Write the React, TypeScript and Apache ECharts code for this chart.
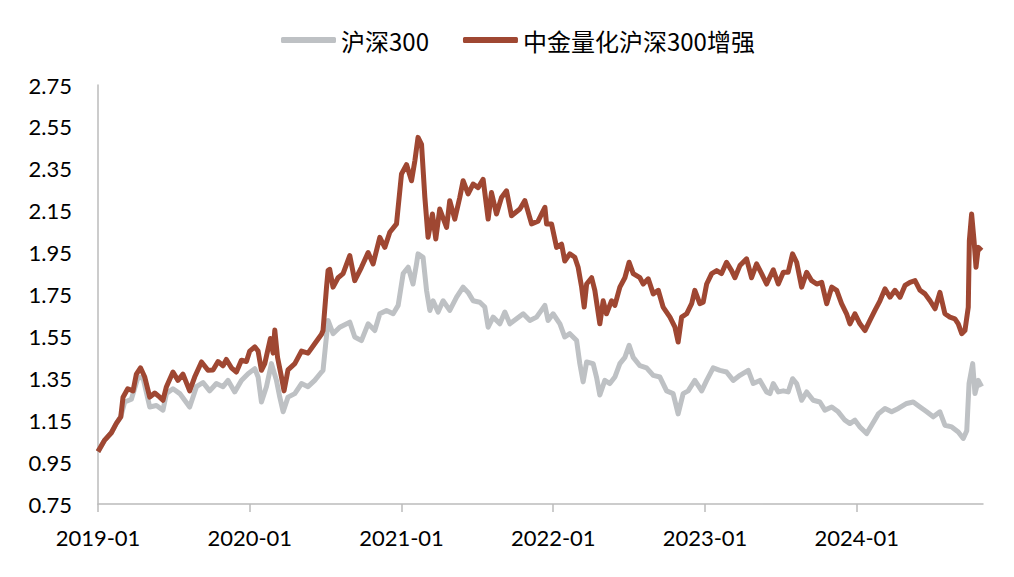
import React, { useEffect, useRef } from "react";
import * as echarts from "echarts";

const seriesNames = ["沪深300", "中金量化沪深300增强"];

const csiYears = [
  2019.000, 2019.044, 2019.088, 2019.121, 2019.150, 2019.176, 2019.220, 2019.264, 2019.297, 2019.341,
  2019.385, 2019.428, 2019.451, 2019.494, 2019.539, 2019.604, 2019.649, 2019.692, 2019.736, 2019.780,
  2019.824, 2019.857, 2019.901, 2019.945, 2019.989, 2020.033, 2020.055, 2020.077, 2020.110, 2020.143,
  2020.176, 2020.198, 2020.220, 2020.252, 2020.297, 2020.341, 2020.384, 2020.428, 2020.473, 2020.483,
  2020.516, 2020.549, 2020.593, 2020.659, 2020.692, 2020.736, 2020.780, 2020.824, 2020.857, 2020.901,
  2020.945, 2020.978, 2021.011, 2021.044, 2021.076, 2021.099, 2021.109, 2021.142, 2021.165, 2021.187,
  2021.208, 2021.241, 2021.274, 2021.318, 2021.363, 2021.406, 2021.439, 2021.472, 2021.516, 2021.549,
  2021.571, 2021.604, 2021.648, 2021.681, 2021.714, 2021.758, 2021.802, 2021.846, 2021.890, 2021.945,
  2021.966, 2021.999, 2022.044, 2022.076, 2022.109, 2022.154, 2022.175, 2022.197, 2022.220, 2022.263,
  2022.285, 2022.307, 2022.340, 2022.373, 2022.406, 2022.439, 2022.472, 2022.500, 2022.527, 2022.571,
  2022.615, 2022.659, 2022.703, 2022.747, 2022.790, 2022.823, 2022.856, 2022.889, 2022.933, 2022.978,
  2023.011, 2023.054, 2023.098, 2023.142, 2023.186, 2023.230, 2023.285, 2023.318, 2023.362, 2023.406,
  2023.428, 2023.450, 2023.483, 2023.516, 2023.548, 2023.577, 2023.604, 2023.637, 2023.670, 2023.713,
  2023.757, 2023.790, 2023.835, 2023.878, 2023.922, 2023.955, 2023.988, 2024.021, 2024.065, 2024.098,
  2024.142, 2024.186, 2024.230, 2024.274, 2024.329, 2024.372, 2024.417, 2024.461, 2024.504, 2024.548,
  2024.581, 2024.626, 2024.669, 2024.702, 2024.725, 2024.740, 2024.764, 2024.779, 2024.801, 2024.823,
];
const csiValues = [
  1.00, 1.055, 1.09, 1.135, 1.166, 1.237, 1.25, 1.356, 1.35, 1.213,
  1.22, 1.198, 1.277, 1.30, 1.277, 1.213, 1.31, 1.33, 1.29, 1.325,
  1.31, 1.34, 1.285, 1.34, 1.372, 1.396, 1.356, 1.237, 1.31, 1.42,
  1.34, 1.26, 1.19, 1.26, 1.277, 1.325, 1.31, 1.34, 1.38, 1.388,
  1.626, 1.563, 1.594, 1.618, 1.547, 1.53, 1.61, 1.578, 1.658, 1.674,
  1.658, 1.698, 1.85, 1.88, 1.80, 1.896, 1.944, 1.928, 1.77, 1.674,
  1.72, 1.666, 1.72, 1.674, 1.737, 1.785, 1.76, 1.72, 1.713, 1.69,
  1.594, 1.642, 1.61, 1.666, 1.61, 1.634, 1.658, 1.626, 1.642, 1.698,
  1.626, 1.658, 1.61, 1.547, 1.563, 1.53, 1.42, 1.333, 1.428, 1.42,
  1.356, 1.27, 1.34, 1.325, 1.356, 1.42, 1.45, 1.507, 1.45, 1.41,
  1.40, 1.364, 1.356, 1.29, 1.277, 1.18, 1.277, 1.29, 1.34, 1.29,
  1.34, 1.40, 1.388, 1.38, 1.34, 1.364, 1.388, 1.325, 1.34, 1.285,
  1.277, 1.325, 1.285, 1.29, 1.285, 1.348, 1.325, 1.245, 1.285, 1.245,
  1.237, 1.198, 1.213, 1.19, 1.15, 1.134, 1.15, 1.118, 1.086, 1.126,
  1.18, 1.206, 1.19, 1.206, 1.23, 1.237, 1.213, 1.19, 1.166, 1.19,
  1.126, 1.118, 1.094, 1.063, 1.10, 1.325, 1.42, 1.277, 1.34, 1.31,
];

const enhYears = [
  2019.000, 2019.044, 2019.088, 2019.121, 2019.150, 2019.165, 2019.196, 2019.231, 2019.253, 2019.280,
  2019.308, 2019.341, 2019.374, 2019.407, 2019.428, 2019.451, 2019.494, 2019.527, 2019.560, 2019.604,
  2019.637, 2019.682, 2019.725, 2019.758, 2019.791, 2019.824, 2019.846, 2019.879, 2019.912, 2019.945,
  2019.978, 2020.000, 2020.033, 2020.055, 2020.077, 2020.099, 2020.136, 2020.154, 2020.165, 2020.183,
  2020.209, 2020.226, 2020.252, 2020.297, 2020.341, 2020.384, 2020.428, 2020.473, 2020.483, 2020.506,
  2020.516, 2020.527, 2020.549, 2020.582, 2020.615, 2020.659, 2020.692, 2020.736, 2020.780, 2020.813,
  2020.857, 2020.890, 2020.923, 2020.967, 2021.000, 2021.033, 2021.066, 2021.088, 2021.109, 2021.132,
  2021.154, 2021.175, 2021.204, 2021.226, 2021.252, 2021.297, 2021.318, 2021.351, 2021.384, 2021.406,
  2021.439, 2021.472, 2021.505, 2021.538, 2021.571, 2021.593, 2021.626, 2021.659, 2021.692, 2021.725,
  2021.780, 2021.813, 2021.857, 2021.900, 2021.945, 2021.956, 2021.989, 2022.022, 2022.055, 2022.076,
  2022.109, 2022.142, 2022.164, 2022.187, 2022.204, 2022.220, 2022.253, 2022.274, 2022.307, 2022.329,
  2022.351, 2022.384, 2022.406, 2022.439, 2022.472, 2022.500, 2022.527, 2022.571, 2022.593, 2022.626,
  2022.659, 2022.692, 2022.724, 2022.769, 2022.802, 2022.823, 2022.846, 2022.879, 2022.912, 2022.933,
  2022.966, 2022.988, 2023.011, 2023.044, 2023.077, 2023.109, 2023.142, 2023.175, 2023.197, 2023.230,
  2023.274, 2023.307, 2023.340, 2023.373, 2023.406, 2023.450, 2023.483, 2023.516, 2023.548, 2023.577,
  2023.604, 2023.637, 2023.670, 2023.703, 2023.736, 2023.769, 2023.802, 2023.835, 2023.868, 2023.900,
  2023.933, 2023.955, 2023.988, 2024.021, 2024.054, 2024.087, 2024.120, 2024.153, 2024.186, 2024.219,
  2024.252, 2024.285, 2024.318, 2024.351, 2024.384, 2024.417, 2024.450, 2024.483, 2024.516, 2024.548,
  2024.581, 2024.614, 2024.647, 2024.669, 2024.692, 2024.713, 2024.735, 2024.742, 2024.757, 2024.773,
  2024.786, 2024.801, 2024.823,
];
const enhValues = [
  1.00, 1.055, 1.09, 1.135, 1.166, 1.26, 1.30, 1.29, 1.37, 1.40,
  1.356, 1.26, 1.28, 1.26, 1.245, 1.31, 1.38, 1.34, 1.37, 1.29,
  1.356, 1.428, 1.388, 1.39, 1.43, 1.41, 1.44, 1.40, 1.38, 1.436,
  1.43, 1.48, 1.50, 1.48, 1.388, 1.42, 1.54, 1.47, 1.58, 1.45,
  1.356, 1.29, 1.39, 1.42, 1.48, 1.47, 1.515, 1.56, 1.578, 1.785,
  1.864, 1.87, 1.785, 1.83, 1.85, 1.936, 1.816, 1.88, 1.95, 1.896,
  2.023, 1.975, 2.047, 2.087, 2.325, 2.37, 2.293, 2.388, 2.50, 2.467,
  2.213, 2.023, 2.134, 2.015, 2.158, 2.07, 2.198, 2.11, 2.213, 2.293,
  2.23, 2.277, 2.26, 2.30, 2.11, 2.237, 2.134, 2.213, 2.245, 2.126,
  2.158, 2.198, 2.087, 2.10, 2.166, 2.087, 2.087, 1.975, 1.99, 1.91,
  1.944, 1.928, 1.88, 1.785, 1.69, 1.80, 1.83, 1.77, 1.61, 1.72,
  1.658, 1.72, 1.698, 1.785, 1.83, 1.904, 1.85, 1.83, 1.80, 1.825,
  1.753, 1.77, 1.69, 1.642, 1.594, 1.523, 1.642, 1.658, 1.706, 1.77,
  1.706, 1.713, 1.80, 1.85, 1.864, 1.85, 1.904, 1.864, 1.83, 1.888,
  1.92, 1.83, 1.896, 1.85, 1.80, 1.868, 1.80, 1.856, 1.856, 1.944,
  1.904, 1.785, 1.856, 1.816, 1.80, 1.808, 1.706, 1.785, 1.77, 1.706,
  1.658, 1.61, 1.658, 1.61, 1.578, 1.626, 1.674, 1.72, 1.777, 1.737,
  1.77, 1.737, 1.793, 1.808, 1.816, 1.77, 1.753, 1.72, 1.682, 1.76,
  1.658, 1.642, 1.634, 1.61, 1.563, 1.578, 1.69, 2.007, 2.134, 2.007,
  1.88, 1.975, 1.96,
];

const xTickValues = [2019, 2020, 2021, 2022, 2023, 2024];
const xTickLabels = ["2019-01", "2020-01", "2021-01", "2022-01", "2023-01", "2024-01"];
const yTickValues = [0.75, 0.95, 1.15, 1.35, 1.55, 1.75, 1.95, 2.15, 2.35, 2.55, 2.75];
const yTickLabels = ["0.75", "0.95", "1.15", "1.35", "1.55", "1.75", "1.95", "2.15", "2.35", "2.55", "2.75"];

const pairs = (xs: number[], ys: number[]) => xs.map((x, i) => [x, ys[i]]);

export default function App() {
  const ref = useRef<HTMLDivElement>(null);
  useEffect(() => {
    document.body.style.margin = "0";
    if (!ref.current) return;
    const chart = echarts.init(ref.current, null, { renderer: "svg" });
    const axisFont = { fontFamily: "Lato, 'Noto Sans', sans-serif", fontSize: 22, color: "#000" };
    chart.setOption({
      animation: false,
      backgroundColor: "#fff",
      legend: {
        top: 23,
        left: 276,
        icon: "roundRect",
        itemWidth: 55,
        itemHeight: 6,
        itemGap: 34,
        textStyle: { fontFamily: "'Noto Sans CJK SC', sans-serif", fontSize: 24, color: "#000" },
        data: seriesNames,
      },
      grid: { left: 98, right: 31, top: 85, bottom: 73 },
      xAxis: {
        type: "value",
        min: 2019,
        max: 2024.832,
        splitLine: { show: false },
        axisLine: { show: true, lineStyle: { color: "#BBBBBB", width: 1.5 } },
        axisTick: { show: true, length: 8, customValues: xTickValues, lineStyle: { color: "#BBBBBB", width: 1.5 } },
        axisLabel: {
          ...axisFont,
          margin: 22,
          customValues: xTickValues,
          formatter: (v: number) => {
            const i = xTickValues.indexOf(Math.round(v));
            return i >= 0 ? xTickLabels[i] : "";
          },
        },
      },
      yAxis: {
        type: "value",
        min: 0.75,
        max: 2.75,
        splitLine: { show: false },
        axisLine: { show: true, lineStyle: { color: "#BBBBBB", width: 1.5 } },
        axisTick: { show: false },
        axisLabel: {
          ...axisFont,
          margin: 26,
          customValues: yTickValues,
          formatter: (v: number) => {
            const i = yTickValues.findIndex((t) => Math.abs(t - v) < 1e-6);
            return i >= 0 ? yTickLabels[i] : "";
          },
        },
      },
      series: [
        {
          name: seriesNames[0],
          type: "line",
          showSymbol: false,
          symbol: "none",
          data: pairs(csiYears, csiValues),
          itemStyle: { color: "#BEC1C4" },
          lineStyle: { color: "#BEC1C4", width: 5, join: "round" },
        },
        {
          name: seriesNames[1],
          type: "line",
          showSymbol: false,
          symbol: "none",
          data: pairs(enhYears, enhValues),
          itemStyle: { color: "#9F4732" },
          lineStyle: { color: "#9F4732", width: 5, join: "round" },
        },
      ],
    });
    return () => chart.dispose();
  }, []);
  return <div ref={ref} style={{ width: 1014, height: 577 }} />;
}
